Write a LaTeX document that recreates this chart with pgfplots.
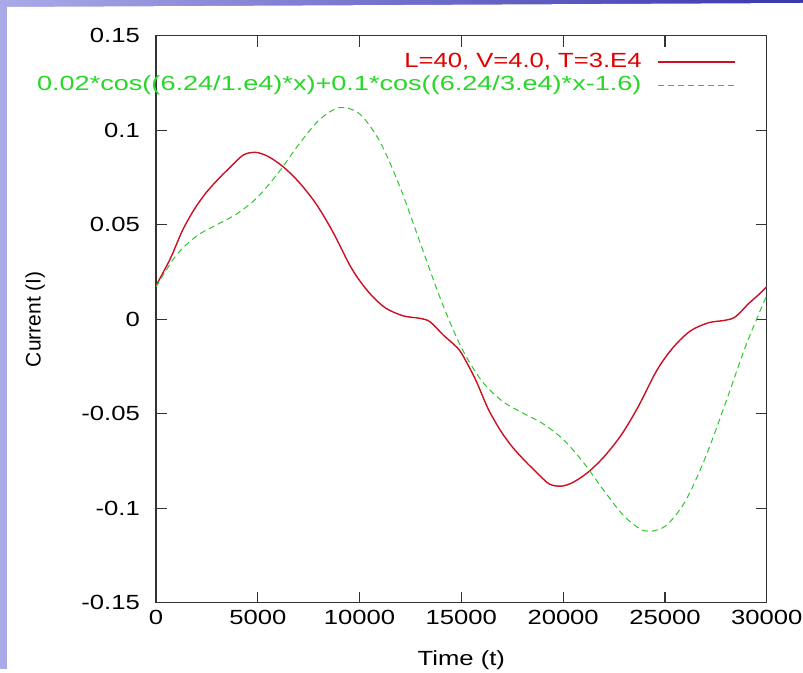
\documentclass[border=0pt]{standalone}
\usepackage{fontspec}
\setmainfont{Liberation Sans}[FakeStretch=1.25]
\newfontfamily\plainfont{Liberation Sans}
\usepackage{graphicx}
\usepackage{pgfplots}
\pgfplotsset{compat=1.18}
\definecolor{gpred}{RGB}{205,15,35}
\definecolor{gptxtred}{RGB}{225,0,0}
\definecolor{gpgreen}{RGB}{45,200,45}
\definecolor{gptxtgreen}{RGB}{40,215,40}
\definecolor{bgL}{RGB}{170,170,232}
\definecolor{bgR}{RGB}{55,55,175}
\newcommand\tf{\fontsize{20.5bp}{24bp}\selectfont}
\pgfplotstableread{
x y
0 0.0178
700 0.0320
1300 0.0470
1900 0.0585
2500 0.0675
3150 0.0752
3650 0.0805
4300 0.0870
4900 0.0883
5500 0.0862
6250 0.0807
7070 0.0720
7900 0.0605
8700 0.0460
9500 0.0290
10000 0.0205
10600 0.0125
11300 0.0058
12150 0.0018
12970 0.0005
13460 -0.0013
14110 -0.0083
14600 -0.0130
15000 -0.0178
15700 -0.0320
16300 -0.0470
16900 -0.0585
17500 -0.0675
18150 -0.0752
18650 -0.0805
19300 -0.0870
19900 -0.0883
20500 -0.0862
21250 -0.0807
22070 -0.0720
22900 -0.0605
23700 -0.0460
24500 -0.0290
25000 -0.0205
25600 -0.0125
26300 -0.0058
27150 -0.0018
27970 -0.0005
28460 0.0013
29110 0.0083
29600 0.0130
30000 0.0172
}\redtable
\pgfplotstableread{
x y
0 0.0171
1000 0.0340
2000 0.0441
3000 0.0501
4000 0.0560
5000 0.0647
6000 0.0774
7000 0.0923
8000 0.1053
9000 0.1120
10000 0.1087
11000 0.0940
12000 0.0696
13000 0.0398
14000 0.0101
15000 -0.0149
16000 -0.0326
17000 -0.0432
18000 -0.0495
19000 -0.0552
20000 -0.0635
21000 -0.0758
22000 -0.0906
23000 -0.1042
24000 -0.1119
25000 -0.1096
26000 -0.0963
27000 -0.0728
28000 -0.0436
29000 -0.0132
30000 0.0126
}\greentable
\begin{document}
\begin{tikzpicture}
\shade[left color=bgL,right color=bgR] (0,0) rectangle (803bp,669bp);
\fill[white] (7bp,0) -- (803bp,0) -- (803bp,666bp) -- (7bp,662bp) -- cycle;
\begin{axis}[
  at={(156bp,66.2bp)}, anchor=south west,
  scale only axis, width=610.7bp, height=567bp,
  xmin=0, xmax=30000, ymin=-0.15, ymax=0.15,
  axis line style={black!80, line width=1.2bp},
  tick style={black!80, line width=1.2bp},
  tick align=inside, major tick length=11bp,
  xtick={0,5000,10000,15000,20000,25000,30000},
  xticklabels={0,5000,10000,15000,20000,25000,30000},
  ytick={-0.15,-0.1,-0.05,0,0.05,0.1,0.15},
  yticklabels={-0.15,-0.1,-0.05,0,0.05,0.1,0.15},
  scaled ticks=false,
  tick label style={font=\tf, inner sep=0pt},
  xticklabel style={anchor=north, yshift=-7.5bp},
  yticklabel style={anchor=east, xshift=-16bp},
  xlabel={Time (t)}, ylabel={Current (I)},
  xlabel style={font=\tf, at={(axis description cs:0.5,-0.1009)}, anchor=center},
  ylabel style={font=\plainfont\fontsize{21bp}{24bp}\selectfont, at={(axis description cs:-0.198,0.5)}, anchor=center},
  legend plot pos=right,
  legend cell align=right,
  legend image code/.code={\path (0bp,0bp); \draw[#1] (16bp,0bp) -- (93bp,0bp);},
  legend style={draw=none, fill=none, font=\tf,
    at={(axis description cs:0.9497,0.970)}, anchor=north east,
    inner sep=0pt, outer sep=0pt, row sep=5bp,
    nodes={inner sep=0pt, text height=14.7bp, text depth=3.5bp}},
]
\addplot[gpred, line width=1.4bp, smooth] table[x=x,y=y]{\redtable};
\addlegendentry{\textcolor{gptxtred}{L=40, V=4.0, T=3.E4}}
\addplot[gpgreen, line width=1bp, smooth, dash pattern=on 6bp off 4bp] table[x=x,y=y]{\greentable};
\addlegendentry{\textcolor{gptxtgreen}{\scalebox{1.057}[1]{0.02*cos((6.24/1.e4)*x)+0.1*cos((6.24/3.e4)*x-1.6)}}}
\end{axis}
\end{tikzpicture}
\end{document}
